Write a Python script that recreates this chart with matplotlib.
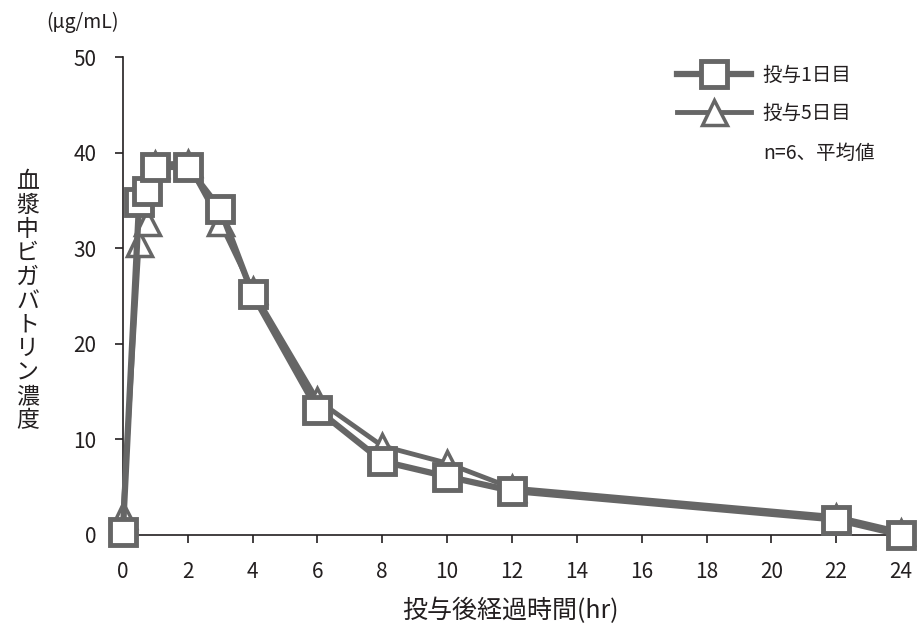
import matplotlib.pyplot as plt

plt.rcParams['font.family'] = ['Noto Sans CJK JP', 'DejaVu Sans']

# 投与後経過時間 (hr)
t = [0, 0.5, 0.75, 1, 2, 3, 4, 6, 8, 10, 12, 22, 24]
# 血漿中濃度 (μg/mL)
day1 = [0.3, 34.8, 36.0, 38.5, 38.5, 34.1, 25.2, 13.1, 7.7, 6.1, 4.6, 1.6, 0.0]
day5 = [2.1, 30.5, 32.7, 38.8, 38.9, 32.7, 25.6, 14.1, 9.3, 7.5, 4.9, 1.9, 0.3]

xticks = list(range(0, 25, 2))
yticks = [0, 10, 20, 30, 40, 50]

grey = '#666666'
txt = '#231f20'

fig = plt.figure(figsize=(9.17, 6.27), dpi=100)
ax = fig.add_axes([0.134, 0.147, 0.8486, 0.762])

ax.plot(t, day5, color=grey, lw=3.5, marker='^', ms=18, mfc='white',
        mec=grey, mew=2.5, clip_on=False, zorder=3, label='投与5日目')
ax.plot(t, day1, color=grey, lw=4.5, marker='s', ms=19, mfc='white',
        mec=grey, mew=3.5, clip_on=False, zorder=4, label='投与1日目')

ax.set_xlim(0, 24)
ax.set_ylim(0, 50)
ax.set_xticks(xticks)
ax.set_yticks(yticks)
ax.tick_params(labelsize=15, colors=txt, length=6, width=1.2, direction='out')
ax.tick_params(axis='x', pad=13)
ax.tick_params(axis='y', pad=13)
for s in ['top', 'right']:
    ax.spines[s].set_visible(False)
for s in ['left', 'bottom']:
    ax.spines[s].set_color(txt)
    ax.spines[s].set_linewidth(1.2)

fig.text(0.09, 0.965, '(μg/mL)', ha='center', va='center', fontsize=14, color=txt)
fig.text(0.03, 0.52, '\n'.join('血漿中ビガバトリン濃度'), ha='center', va='center',
         fontsize=16.5, color=txt, linespacing=1.05)
fig.text(0.557, 0.025, '投与後経過時間(hr)', ha='center', va='center',
         fontsize=18, color=txt)

h, l = ax.get_legend_handles_labels()
leg = ax.legend(h[::-1], l[::-1], loc='upper left', bbox_to_anchor=(0.69, 1.02),
                frameon=False, fontsize=14, handlelength=3.8, labelspacing=0.85,
                handletextpad=0.6)
for tx in leg.get_texts():
    tx.set_color(txt)
fig.text(0.832, 0.755, 'n=6、平均値', ha='left', va='center', fontsize=14, color=txt)

fig.savefig('out.png', dpi=100)
